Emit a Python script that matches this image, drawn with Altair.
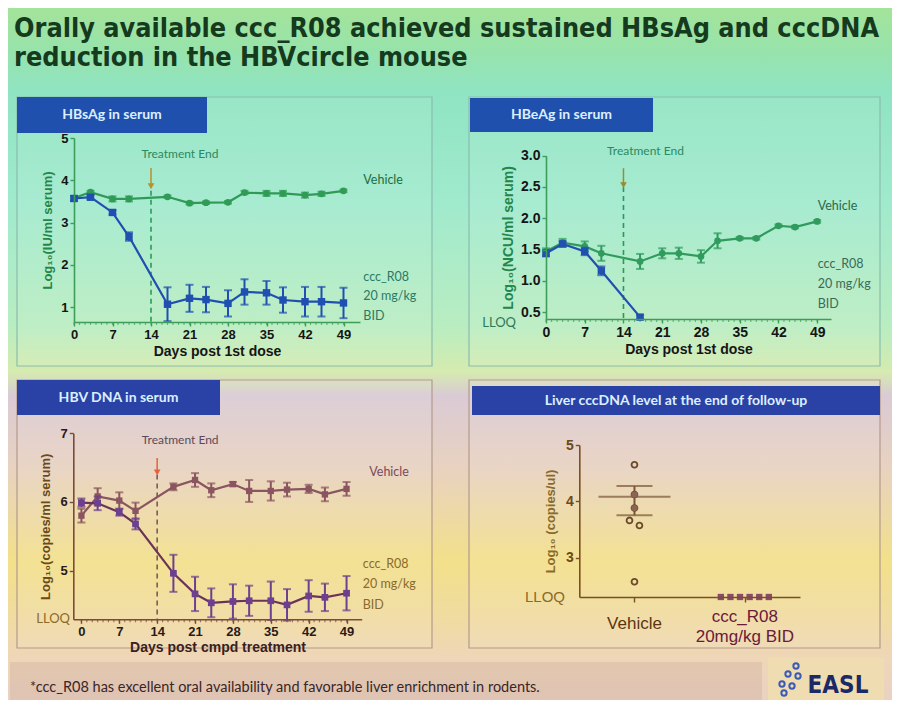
import altair as alt
import pandas as pd

# ---------------- text ----------------
title_lines = ["Orally available ccc_R08 achieved sustained HBsAg and cccDNA",
               "reduction in the HBVcircle mouse"]
footnote = "*ccc_R08 has excellent oral availability and favorable liver enrichment in rodents."
panel_titles = ["HBsAg in serum", "HBeAg in serum", "HBV DNA in serum",
                "Liver cccDNA level at the end of follow-up"]
vehicle_name = "Vehicle"
treated_lines = ["ccc_R08", "20 mg/kg", "BID"]
treated_lines_p4 = ["ccc_R08", "20mg/kg BID"]
treatment_end_label = "Treatment End"
treatment_end_day = 14
label_days = [0, 7, 14, 21, 28, 35, 42, 49]
minor_days = list(range(0, 50))

# ---------------- data ----------------
days = [0, 3, 7, 10, 17, 21, 24, 28, 31, 35, 38, 42, 45, 49]

hbsag_veh = [3.58, 3.72, 3.56, 3.56, 3.61, 3.46, 3.47, 3.48, 3.71, 3.69, 3.69, 3.65, 3.68, 3.75]
hbsag_veh_sem = [0.04, 0.03, 0.06, 0.06, 0.03, 0.03, 0.03, 0.03, 0.04, 0.06, 0.06, 0.06, 0.05, 0.03]
hbsag_trt = [3.57, 3.60, 3.24, 2.67, 1.07, 1.21, 1.18, 1.09, 1.36, 1.34, 1.17, 1.13, 1.13, 1.10]
hbsag_trt_sem = [0.06, 0.05, 0.05, 0.10, 0.40, 0.32, 0.30, 0.31, 0.30, 0.28, 0.30, 0.35, 0.35, 0.36]

hbeag_veh = [1.47, 1.61, 1.55, 1.44, 1.31, 1.44, 1.44, 1.39, 1.64, 1.68, 1.68, 1.88, 1.86, 1.95]
hbeag_veh_sem = [0.05, 0.06, 0.08, 0.12, 0.12, 0.08, 0.09, 0.10, 0.12, 0.02, 0.02, 0.02, 0.02, 0.02]
hbeag_trt_days = [0, 3, 7, 10, 17]
hbeag_trt = [1.44, 1.59, 1.47, 1.16, 0.42]
hbeag_trt_sem = [0.05, 0.04, 0.06, 0.07, 0.03]
hbeag_lloq = 0.39

dna_veh = [5.80, 6.08, 6.02, 5.87, 6.22, 6.32, 6.17, 6.26, 6.16, 6.16, 6.18, 6.19, 6.11, 6.19]
dna_veh_sem = [0.10, 0.12, 0.12, 0.12, 0.05, 0.10, 0.10, 0.03, 0.16, 0.14, 0.10, 0.06, 0.10, 0.10]
dna_trt = [5.99, 5.98, 5.85, 5.68, 4.96, 4.66, 4.53, 4.55, 4.56, 4.56, 4.50, 4.63, 4.61, 4.67]
dna_trt_sem = [0.06, 0.10, 0.05, 0.08, 0.27, 0.25, 0.21, 0.25, 0.22, 0.28, 0.23, 0.23, 0.20, 0.25]
dna_lloq = 4.29

ccc_vehicle = [4.65, 4.12, 3.88, 3.66, 3.57, 2.57]
ccc_vehicle_dodge = [0, 0, 0, -1, 1, 0]
ccc_vehicle_mean = 4.08
ccc_vehicle_sem_lo = 3.75
ccc_vehicle_sem_hi = 4.27
ccc_treated = [2.3, 2.3, 2.3, 2.3, 2.3, 2.3]
ccc_lloq = 2.3

# ---------------- style ----------------
AX_FONT = "Liberation Sans"
SL_FONT = "Lato"
NARROW = "Liberation Sans Narrow, DejaVu Sans Condensed, Liberation Sans"
ONE = pd.DataFrame({"k": [0]})

bg_stops = [(0.0, "#a4e39a"), (0.06, "#98e3ab"), (0.12, "#8fe4c2"), (0.28, "#a0eacd"),
            (0.46, "#b9edc1"), (0.525, "#d5ebaf"), (0.56, "#dacad4"), (0.665, "#e8d2c0"),
            (0.80, "#f2e08a"), (0.885, "#f0dba2"), (0.94, "#eed6b8"), (1.0, "#ead1c2")]


def axis(offset, values, title, dom_col, lab_col, tit_col, lab_size=13, tit_size=13,
         tick=4, fmt=None, title_pad=4, labels=True, lab_weight="bold"):
    kw = dict(offset=offset, values=values, title=title, grid=False, zindex=1,
              domainColor=dom_col, domainWidth=1.6, tickColor=dom_col, tickWidth=1.4,
              tickSize=tick, labelFont=AX_FONT, labelFontWeight=lab_weight,
              labelFontSize=lab_size, labelColor=lab_col, labelPadding=2,
              labelOverlap=False, labelFlush=False, titleFont=AX_FONT,
              titleFontWeight="bold", titleFontSize=tit_size, titleColor=tit_col,
              titlePadding=title_pad, labels=labels)
    if fmt:
        kw["format"] = fmt
    return alt.Axis(**kw)


def frame_layers(W, H, frame_col, bar, bar_col, bar_text):
    bx, by, bx2, by2 = bar
    frame = alt.Chart(ONE).mark_rect(fill="#ffffff", fillOpacity=0.08, stroke=frame_col,
                                     strokeWidth=1.2).encode(
        x=alt.value(0), x2=alt.value(W), y=alt.value(0), y2=alt.value(H))
    rect = alt.Chart(ONE).mark_rect(color=bar_col).encode(
        x=alt.value(bx), x2=alt.value(bx2), y=alt.value(by), y2=alt.value(by2))
    txt = alt.Chart(ONE).mark_text(font=SL_FONT, fontWeight="bold", fontSize=14,
                                   color="#dcefff", align="center", baseline="middle").encode(
        x=alt.value((bx + bx2) / 2), y=alt.value((by + by2) / 2), text=alt.value(bar_text))
    return [frame, rect, txt]


def minor_ticks(X, y_min, color):
    df = pd.DataFrame({"day": minor_days})
    return alt.Chart(df).mark_tick(orient="vertical", size=3, thickness=1.2, color=color,
                                   yOffset=1.5).encode(x=X("day"), y=alt.datum(y_min))


def series(df, X, Y, color, shape, size, line_col=None):
    base = alt.Chart(df).transform_calculate(lo="datum.v - datum.e", hi="datum.v + datum.e")
    line = base.mark_line(color=line_col or color, strokeWidth=2.2).encode(x=X("day"), y=Y("v"))
    err = base.mark_rule(color=color, strokeWidth=2).encode(x=X("day"), y=Y("lo"), y2="hi:Q")
    cap_lo = base.mark_tick(orient="horizontal", color=color, size=8, thickness=2).encode(
        x=X("day"), y=Y("lo"))
    cap_hi = base.mark_tick(orient="horizontal", color=color, size=8, thickness=2).encode(
        x=X("day"), y=Y("hi"))
    pts = base.mark_point(filled=True, shape=shape, size=size, color=color, opacity=1).encode(
        x=X("day"), y=Y("v"))
    return [line, err, cap_lo, cap_hi, pts]


def treatment_layers(t, y_text, y_arrow_top, y_arrow_tip, y_dash_top, y_dash_bot,
                     text_col, arrow_col, dash_col, text_dx):
    dash = alt.Chart(ONE).mark_rule(strokeDash=[5, 4], color=dash_col, strokeWidth=1.6).encode(
        x=alt.datum(t), y=alt.datum(y_dash_top), y2=alt.datum(y_dash_bot))
    shaft = alt.Chart(ONE).mark_rule(color=arrow_col, strokeWidth=1.5).encode(
        x=alt.datum(t), y=alt.datum(y_arrow_top), y2=alt.datum(y_arrow_tip))
    head = alt.Chart(ONE).mark_point(shape="triangle-down", filled=True, size=45,
                                     color=arrow_col, opacity=1).encode(
        x=alt.datum(t), y=alt.datum(y_arrow_tip))
    txt = alt.Chart(ONE).mark_text(font=SL_FONT, fontSize=12, color=text_col, align="center",
                                   baseline="middle", dx=text_dx).encode(
        x=alt.datum(t), y=alt.datum(y_text), text=alt.value(treatment_end_label))
    return [dash, shaft, head, txt]


def series_labels(x_veh, y_veh, x_trt, y_trt_first, veh_col, trt_col, lh=20):
    v = alt.Chart(ONE).mark_text(font=SL_FONT, fontSize=12.5, color=veh_col, align="left",
                                 baseline="middle").encode(
        x=alt.datum(x_veh), y=alt.datum(y_veh), text=alt.value(vehicle_name))
    t = alt.Chart(ONE).mark_text(font=SL_FONT, fontSize=12.5, color=trt_col, align="left",
                                 baseline="middle", lineHeight=lh).encode(
        x=alt.datum(x_trt), y=alt.datum(y_trt_first), text=alt.value(treated_lines))
    return [v, t]


def ts_df(d, v, e):
    return pd.DataFrame({"day": d, "v": v, "e": e})


# ================= Panel 1: HBsAg =================
W1, H1 = 415, 269
xs1 = alt.Scale(domain=[0, 52], range=[57, 343], nice=False, zero=False)
ys1 = alt.Scale(domain=[0.65, 5], range=[225, 41], nice=False, zero=False)
green_ax = "#3d9e5a"
xa1 = axis(-44, label_days, "Days post 1st dose", green_ax, "#151515", "#151515",
           lab_size=13, tit_size=14, tick=4, fmt="d", title_pad=3)
ya1 = axis(-57, [1, 2, 3, 4, 5], "Log₁₀(IU/ml serum)", green_ax, "#151515", "#23864a",
           lab_size=13, tit_size=13, tick=4, fmt="d", title_pad=6)
X1 = lambda f: alt.X(f, type="quantitative", scale=xs1, axis=xa1)
Y1 = lambda f: alt.Y(f, type="quantitative", scale=ys1, axis=ya1)

bg = alt.Chart(ONE).mark_rect(color=alt.LinearGradient(
    gradient="linear", x1=0, x2=0, y1=0, y2=1,
    stops=[alt.GradientStop(offset=o, color=c) for o, c in bg_stops])).encode(
    x=alt.value(-9), x2=alt.value(875), y=alt.value(-89), y2=alt.value(603))
title = alt.Chart(ONE).mark_text(font=NARROW, fontWeight="bold", fontSize=26.8,
                                 color="#153a1d", align="left", baseline="alphabetic",
                                 lineHeight=28.5).encode(
    x=alt.value(-3), y=alt.value(-60), text=alt.value(title_lines))

p1_layers = [bg, title] + frame_layers(W1, H1, "#8bbcae", (0, 0, 190, 36), "#1f50ad", panel_titles[0])
p1_layers += [minor_ticks(X1, 0.65, green_ax)]
p1_layers += treatment_layers(treatment_end_day, 4.63, 4.29, 3.86, 3.75, 0.65,
                              "#2a8a60", "#b8902e", "#2a9a5a", 29)
p1_layers += series(ts_df(days, hbsag_veh, hbsag_veh_sem), X1, Y1, "#2f9b55", "circle", 45)
p1_layers += series(ts_df(days, hbsag_trt, hbsag_trt_sem), X1, Y1, "#1f4fb0", "square", 55)
p1_layers += series_labels(52.6, 4.0, 52.6, 1.72, "#1e6e40", "#2a7a66", lh=19.5)
p1 = alt.layer(*p1_layers).properties(width=W1, height=H1)

# ================= Panel 2: HBeAg =================
W2, H2 = 411, 269
xs2 = alt.Scale(domain=[0, 51.5], range=[77, 362], nice=False, zero=False)
ys2 = alt.Scale(domain=[hbeag_lloq, 3.0], range=[222, 58.7], nice=False, zero=False)
xa2 = axis(-47, label_days, "Days post 1st dose", green_ax, "#151515", "#151515",
           lab_size=14, tit_size=14, tick=4, fmt="d", title_pad=3)
ya2 = axis(-77, [0.5, 1.0, 1.5, 2.0, 2.5, 3.0], "Log₁₀(NCU/ml serum)", green_ax, "#151515",
           "#23864a", lab_size=14, tit_size=14, tick=4, fmt=".1f", title_pad=5)
X2 = lambda f: alt.X(f, type="quantitative", scale=xs2, axis=xa2)
Y2 = lambda f: alt.Y(f, type="quantitative", scale=ys2, axis=ya2)

lloq2 = alt.Chart(ONE).mark_text(font=SL_FONT, fontSize=13, color="#2a7a5a", align="right",
                                 baseline="middle").encode(
    x=alt.value(47), y=alt.datum(hbeag_lloq - 0.06), text=alt.value("LLOQ"))
p2_layers = frame_layers(W2, H2, "#8bbcae", (1, 1, 184, 35), "#1f50ad", panel_titles[1])
p2_layers += [minor_ticks(X2, hbeag_lloq, green_ax)]
p2_layers += treatment_layers(treatment_end_day, 3.075, 2.80, 2.53, 2.5, hbeag_lloq,
                              "#2a8a60", "#9a8a30", "#2a9a5a", 22)
p2_layers += series(ts_df(days, hbeag_veh, hbeag_veh_sem), X2, Y2, "#2f9b5c", "circle", 45)
p2_layers += series(ts_df(hbeag_trt_days, hbeag_trt, hbeag_trt_sem), X2, Y2, "#2150b0", "square", 55)
p2_layers += series_labels(49.1, 2.2, 49.1, 1.27, "#2a6a4a", "#3a6a5a")
p2_layers += [lloq2]
p2 = alt.layer(*p2_layers).properties(width=W2, height=H2)

# ================= Panel 3: HBV DNA =================
W3, H3 = 415, 268
xs3 = alt.Scale(domain=[-1.5, 51.8], range=[56.3, 344.7], nice=False, zero=False)
ys3 = alt.Scale(domain=[dna_lloq, 7], range=[239.3, 53.3], nice=False, zero=False)
brown_ax = "#7a4a3a"
xa3 = axis(-28.7, label_days, "Days post cmpd treatment", brown_ax, "#2a1a1a", "#3a2020",
           lab_size=13, tit_size=14, tick=4, fmt="d", title_pad=2)
ya3 = axis(-56.3, [5, 6, 7], "Log₁₀(copies/ml serum)", brown_ax, "#2a1a1a", "#6a4a1a",
           lab_size=13, tit_size=13, tick=4, fmt="d", title_pad=8)
X3 = lambda f: alt.X(f, type="quantitative", scale=xs3, axis=xa3)
Y3 = lambda f: alt.Y(f, type="quantitative", scale=ys3, axis=ya3)

lloq3 = alt.Chart(ONE).mark_text(font=SL_FONT, fontSize=13, color="#8a6a2a", align="right",
                                 baseline="middle").encode(
    x=alt.value(53), y=alt.datum(dna_lloq), text=alt.value("LLOQ"))
footer_band = alt.Chart(ONE).mark_rect(color="#c4a293", opacity=0.28).encode(
    x=alt.value(-7), x2=alt.value(745), y=alt.value(282), y2=alt.value(320))
footer_txt = alt.Chart(ONE).mark_text(font=SL_FONT, fontSize=14.5, color="#3a2626",
                                      align="left", baseline="middle").encode(
    x=alt.value(13), y=alt.value(308), text=alt.value(footnote))

p3_layers = frame_layers(W3, H3, "#b39a8c", (0, 0, 203, 35), "#2a42a6", panel_titles[2])
p3_layers += [minor_ticks(X3, dna_lloq, brown_ax)]
p3_layers += treatment_layers(treatment_end_day, 6.90, 6.64, 6.43, 6.4, dna_lloq,
                              "#5a4a5a", "#e8603a", "#7a5a5a", 23)
p3_layers += series(ts_df(days, dna_veh, dna_veh_sem), X3, Y3, "#8a5560", "square", 40)
p3_layers += series(ts_df(days, dna_trt, dna_trt_sem), X3, Y3, "#6c3f8f", "square", 45,
                    line_col="#6b3358")
p3_layers += series_labels(53.2, 6.43, 52.0, 5.10, "#7a4a5a", "#8a6a2a", lh=20.5)
p3_layers += [lloq3, footer_band, footer_txt]
p3 = alt.layer(*p3_layers).properties(width=W3, height=H3)

# ================= Panel 4: liver cccDNA =================
W4, H4 = 411, 268
xs4 = alt.Scale(domain=[0.5, 2.5], range=[110.3, 331], nice=False, zero=False)
ys4 = alt.Scale(domain=[ccc_lloq, 5], range=[217, 65], nice=False, zero=False)
brown4 = "#7a5020"
xa4 = axis(-51, [1, 2], None, brown4, brown4, brown4, tick=5, labels=False)
ya4 = axis(-110.3, [3, 4, 5], "Log₁₀ (copies/ul)", brown4, "#6a4a1a", "#8a6a2a",
           lab_size=14, tit_size=13, tick=4, fmt="d", title_pad=8)
X4 = lambda f: alt.X(f, type="quantitative", scale=xs4, axis=xa4)
Y4 = lambda f: alt.Y(f, type="quantitative", scale=ys4, axis=ya4)

veh_df = pd.DataFrame({"v": ccc_vehicle, "dodge": ccc_vehicle_dodge})
veh_base = alt.Chart(veh_df).transform_calculate(g="1 + datum.dodge * 0.045")
veh_open = veh_base.mark_point(shape="circle", filled=False, size=34, strokeWidth=1.8,
                               color="#6b4a2a", opacity=1).encode(x=X4("g"), y=Y4("v"))
veh_fill = veh_base.transform_filter(
    f"datum.v > {ccc_vehicle_sem_lo} && datum.v < {ccc_vehicle_sem_hi}").mark_point(
    shape="circle", filled=True, size=40, color="#8a6555", opacity=1).encode(x=X4("g"), y=Y4("v"))
summ = pd.DataFrame({"g": [1], "m": [ccc_vehicle_mean], "lo": [ccc_vehicle_sem_lo],
                     "hi": [ccc_vehicle_sem_hi]})
mean_tick = alt.Chart(summ).mark_tick(orient="horizontal", size=72, thickness=2,
                                      color="#7a5535").encode(x=X4("g"), y=Y4("m"))
sem_rule = alt.Chart(summ).mark_rule(strokeWidth=2, color="#7a5535").encode(
    x=X4("g"), y=Y4("lo"), y2="hi:Q")
sem_lo = alt.Chart(summ).mark_tick(orient="horizontal", size=36, thickness=2,
                                   color="#7a5535").encode(x=X4("g"), y=Y4("lo"))
sem_hi = alt.Chart(summ).mark_tick(orient="horizontal", size=36, thickness=2,
                                   color="#7a5535").encode(x=X4("g"), y=Y4("hi"))
trt_df = pd.DataFrame({"v": ccc_treated})
trt_pts = alt.Chart(trt_df).transform_window(rn="row_number()").transform_calculate(
    g="2 + (datum.rn - 3.5) * 0.087").mark_point(shape="square", filled=True, size=40,
                                                 color="#8a4a6a", opacity=1).encode(
    x=X4("g"), y=Y4("v"))
lab_veh = alt.Chart(ONE).mark_text(font=AX_FONT, fontSize=17, color="#5a3510", align="center",
                                   baseline="middle").encode(
    x=alt.datum(1), y=alt.value(244), text=alt.value(vehicle_name))
lab_trt = alt.Chart(ONE).mark_text(font=AX_FONT, fontSize=17, color="#6a1a3a", align="center",
                                   baseline="middle", lineHeight=20).encode(
    x=alt.datum(2), y=alt.value(236.7), text=alt.value(treated_lines_p4))
lloq4 = alt.Chart(ONE).mark_text(font=AX_FONT, fontSize=15, color="#8a6a2a", align="right",
                                 baseline="middle").encode(
    x=alt.value(96), y=alt.datum(ccc_lloq), text=alt.value("LLOQ"))

logo_box = alt.Chart(ONE).mark_rect(color="#efdcb0").encode(
    x=alt.value(299), x2=alt.value(415), y=alt.value(278), y2=alt.value(320))
logo_txt = alt.Chart(ONE).mark_text(font=NARROW, fontWeight="bold", fontSize=24,
                                    color="#1b2a66", align="center", baseline="middle").encode(
    x=alt.value(369), y=alt.value(306), text=alt.value("EASL"))
logo_dots = [alt.Chart(ONE).mark_point(shape="circle", filled=False, size=28, strokeWidth=2,
                                       color="#3a5ab8", opacity=1).encode(
    x=alt.value(px), y=alt.value(py)) for px, py in
    [(327, 286), (319, 294), (329, 296), (313, 304), (323, 306), (315, 313)]]

p4_layers = frame_layers(W4, H4, "#b39a8c", (3, 6, 411, 35), "#2a42a6", panel_titles[3])
p4_layers += [sem_rule, sem_lo, sem_hi, mean_tick, veh_open, veh_fill, trt_pts,
              lab_veh, lab_trt, lloq4, logo_box, logo_txt] + logo_dots
p4 = alt.layer(*p4_layers).properties(width=W4, height=H4)

chart = alt.concat(p1, p2, p3, p4, columns=2, bounds="flush",
                   spacing=alt.RowColnumber(row=14, column=37)).properties(
    padding=0, background="#ffffff").configure_view(strokeWidth=0)

chart.save("out.html", embed_options={"renderer": "svg", "actions": False})
